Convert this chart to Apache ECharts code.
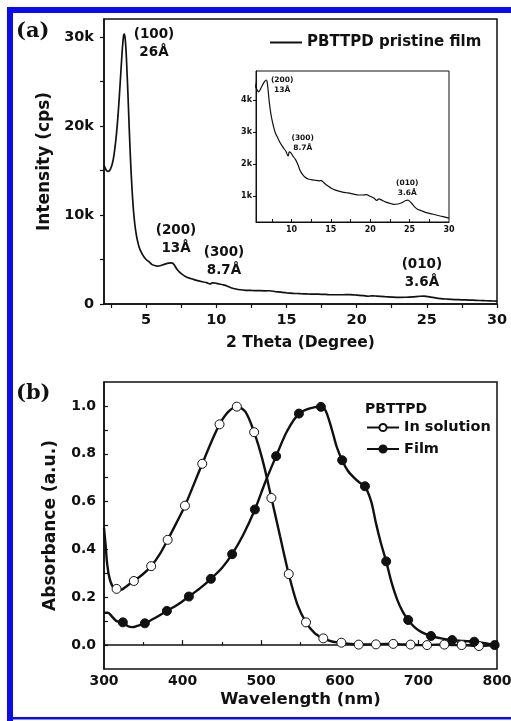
<!DOCTYPE html>
<html>
<head>
<meta charset="utf-8">
<title>PBTTPD XRD and absorption</title>
<script src="https://cdn.jsdelivr.net/npm/echarts@6/dist/echarts.min.js"></script>
<style>
  html, body { margin: 0; padding: 0; background: #fff; }
  #chart { width: 511px; height: 721px; }
</style>
</head>
<body>
<div id="chart"></div>
<script>
// (a) XRD scan of the pristine film
const xrdTheta = [2.0, 2.1, 2.2, 2.3, 2.4, 2.5, 2.6, 2.7, 2.8, 2.9, 3.0, 3.1, 3.2, 3.3, 3.4, 3.45, 3.5, 3.55, 3.6, 3.7,
  3.8, 3.9, 4.0, 4.1, 4.2, 4.3, 4.4, 4.5, 4.6, 4.8, 5.0, 5.2, 5.4, 5.6, 5.8, 6.0, 6.2, 6.4, 6.6, 6.8,
  6.9, 7.0, 7.2, 7.4, 7.6, 7.8, 8.0, 8.3, 8.6, 9.0, 9.3, 9.5, 9.6, 9.7, 9.9, 10.2, 10.5, 10.8, 11.1, 11.4,
  11.7, 12.1, 12.5, 13.0, 13.5, 13.8, 14.2, 14.6, 15.0, 15.5, 16.0, 16.5, 17.0, 17.5, 18.0, 18.5, 19.0, 19.5, 20.0, 20.5,
  20.8, 21.1, 21.4, 22.0, 22.5, 23.0, 23.5, 24.0, 24.5, 24.8, 25.2, 25.6, 26.0, 26.5, 27.0, 27.5, 28.0, 28.5, 29.0, 29.5, 30.0]
const xrdCounts = [15600, 15200, 14950, 14900, 15000, 15300, 15800, 16600, 17800, 19300, 21200, 23500, 26000, 28500, 30200, 30300, 29900, 29000, 27500, 23800,
  19600, 15800, 12800, 10500, 8900, 7800, 7000, 6400, 6000, 5400, 5000, 4750, 4450, 4330, 4250, 4300, 4400, 4500, 4580, 4620,
  4580, 4400, 3900, 3550, 3300, 3100, 2950, 2800, 2650, 2500, 2400, 2280, 2260, 2380, 2360, 2250, 2150, 2000, 1800, 1680,
  1600, 1540, 1520, 1500, 1480, 1490, 1400, 1330, 1260, 1200, 1160, 1130, 1110, 1090, 1060, 1040, 1040, 1050, 1000, 940,
  870, 920, 890, 820, 780, 750, 760, 800, 870, 880, 800, 680, 600, 550, 500, 470, 440, 410, 380, 350, 320]

// peak notes, main plot and inset
const xrdPeakText = ['(100)\n26Å', '(200)\n13Å', '(300)\n8.7Å', '(010)\n3.6Å']
const xrdPeakTheta = [5.56, 7.13, 10.55, 24.65]
const xrdPeakCounts = [29250, 7220, 4750, 3400]
const insetPeakText = ['(200)\n13Å', '(300)\n8.7Å', '(010)\n3.6Å']
const insetPeakTheta = [8.82, 11.43, 24.7]
const insetPeakCounts = [4465, 2666, 1254]

// tick labels
const xrdThetaLabels = [5, 10, 15, 20, 25, 30]
const xrdThetaTicks = [2.5, 5, 7.5, 10, 12.5, 15, 17.5, 20, 22.5, 25, 27.5, 30]
const xrdCountLabels = [0, 10000, 20000, 30000]
const xrdCountTicks = [0, 5000, 10000, 15000, 20000, 25000, 30000]
const insetThetaLabels = [10, 15, 20, 25, 30]
const insetThetaTicks = [7.5, 10, 12.5, 15, 17.5, 20, 22.5, 25, 27.5]
const insetCountLabels = [1000, 2000, 3000, 4000]
const absLabels = [0, 0.2, 0.4, 0.6, 0.8, 1.0]
const absTicks = [0, 0.1, 0.2, 0.3, 0.4, 0.5, 0.6, 0.7, 0.8, 0.9, 1.0]

// (b) absorption spectra; *Dot = 1 where the curve carries a marker
const solWl = [300, 302, 304, 307, 311, 316, 322, 327, 338, 349, 360, 371, 381, 392, 403, 414, 425, 436, 447, 458,
  469, 480, 491, 502, 513, 524, 535, 546, 557, 568, 579, 590, 602, 613, 624, 635, 646, 657, 668, 679,
  690, 700, 711, 722, 733, 744, 755, 766, 777, 788, 800]
const solAbs = [0.49, 0.42, 0.34, 0.28, 0.245, 0.235, 0.232, 0.242, 0.268, 0.295, 0.33, 0.38, 0.44, 0.51, 0.583, 0.67, 0.758, 0.845, 0.923, 0.975,
  0.997, 0.975, 0.89, 0.77, 0.615, 0.455, 0.297, 0.17, 0.095, 0.05, 0.028, 0.015, 0.01, 0.005, 0.002, 0.003, 0.003, 0.005, 0.005, 0.003,
  0.002, 0.0, 0.0, 0.002, 0.002, 0.0, 0.0, -0.002, -0.004, -0.002, 0.0]
const solDot = [0, 0, 0, 0, 0, 1, 0, 0, 1, 0, 1, 0, 1, 0, 1, 0, 1, 0, 1, 0,
  1, 0, 1, 0, 1, 0, 1, 0, 1, 0, 1, 0, 1, 0, 1, 0, 1, 0, 1, 0,
  1, 0, 1, 0, 1, 0, 1, 0, 1, 0, 0]

const filmWl = [300, 305, 310, 316, 324, 330, 336, 342, 352, 366, 380, 394, 408, 422, 436, 450, 463, 477, 492, 505,
  519, 533, 548, 562, 576, 582, 590, 596, 603, 610, 618, 625, 632, 640, 646, 652, 659, 666, 673, 680,
  687, 694, 701, 708, 716, 729, 743, 757, 771, 785, 797, 800]
const filmAbs = [0.135, 0.135, 0.12, 0.10, 0.095, 0.08, 0.075, 0.08, 0.091, 0.115, 0.143, 0.17, 0.203, 0.237, 0.277, 0.322, 0.38, 0.46, 0.567, 0.68,
  0.79, 0.895, 0.968, 0.99, 0.996, 0.98, 0.9, 0.83, 0.773, 0.73, 0.70, 0.68, 0.664, 0.6, 0.51, 0.43, 0.35, 0.26, 0.19, 0.14,
  0.105, 0.078, 0.06, 0.048, 0.038, 0.028, 0.021, 0.017, 0.014, 0.008, 0.0, 0.0]
const filmDot = [0, 0, 0, 0, 1, 0, 0, 0, 1, 0, 1, 0, 1, 0, 1, 0, 1, 0, 1, 0,
  1, 0, 1, 0, 1, 0, 0, 0, 1, 0, 0, 0, 1, 0, 0, 0, 1, 0, 0, 0,
  1, 0, 0, 0, 1, 0, 1, 0, 1, 0, 1, 0]

const ink = '#111'
const font = 'DejaVu Sans'
const blue = '#0a0af5'

function pairs(xs, ys) {
  return xs.map((x, i) => [x, ys[i]])
}
function withDots(xs, ys, dots) {
  return xs.map((x, i) => ({ value: [x, ys[i]], symbol: dots[i] ? 'circle' : 'none' }))
}
function notes(xs, ys, texts) {
  return xs.map((x, i) => ({ value: [x, ys[i]], name: texts[i] }))
}
function kFormat(v) {
  return v === 0 ? '0' : (v / 1000) + 'k'
}

const chart = echarts.init(document.getElementById('chart'))

const axisLine = { show: true, lineStyle: { color: ink, width: 1.5 } }
const bigLabel = { color: ink, fontFamily: font, fontWeight: 'bold', fontSize: 14.5 }
const smallLabel = { color: ink, fontFamily: font, fontWeight: 'bold', fontSize: 8 }
const nameStyle = { color: ink, fontFamily: font, fontWeight: 'bold', fontSize: 16 }
const noteLabel = {
  show: true, position: 'inside', formatter: p => p.name, color: ink, opacity: 1,
  textBorderWidth: 0, fontFamily: font, fontWeight: 'bold'
}

chart.setOption({
  backgroundColor: '#fff',
  animation: false,
  title: [
    { text: '(a)', left: 11, top: 16, textStyle: { fontFamily: 'DejaVu Serif', fontWeight: 'bold', fontSize: 21, color: ink } },
    { text: '(b)', left: 11, top: 378, textStyle: { fontFamily: 'DejaVu Serif', fontWeight: 'bold', fontSize: 21, color: ink } },
    { text: 'PBTTPD', left: 360, top: 397, textStyle: { fontFamily: font, fontWeight: 'bold', fontSize: 14, color: ink } }
  ],
  legend: [
    {
      data: ['PBTTPD pristine film'],
      left: 265, top: 30, icon: 'rect', itemWidth: 32, itemHeight: 2,
      textStyle: { color: ink, fontFamily: font, fontWeight: 'bold', fontSize: 15 }
    },
    {
      data: ['In solution', 'Film'],
      orient: 'vertical', left: 361, top: 415, itemWidth: 32, itemHeight: 9, itemGap: 6.5,
      textStyle: { color: ink, fontFamily: font, fontWeight: 'bold', fontSize: 14.5 }
    }
  ],
  grid: [
    { left: 104, top: 19, width: 393, height: 285, show: true, borderColor: ink, borderWidth: 1.5, outerBoundsMode: 'none' },
    { left: 256, top: 71, width: 193, height: 151, show: true, borderColor: ink, borderWidth: 1, outerBoundsMode: 'none' },
    { left: 104, top: 382, width: 393, height: 287, show: true, borderColor: ink, borderWidth: 1.5, outerBoundsMode: 'none' }
  ],
  xAxis: [
    {
      gridIndex: 0, type: 'value', min: 2, max: 30,
      name: '2 Theta (Degree)', nameLocation: 'middle', nameGap: 31, nameTextStyle: Object.assign({}, nameStyle, { fontSize: 15.5 }),
      axisLine: axisLine,
      axisTick: { length: 4, customValues: xrdThetaTicks, lineStyle: { color: ink, width: 1.2 } },
      axisLabel: Object.assign({ margin: 9, customValues: xrdThetaLabels }, bigLabel),
      splitLine: { show: false }
    },
    {
      gridIndex: 1, type: 'value', min: 5.5, max: 30,
      axisLine: { show: true, lineStyle: { color: ink, width: 1 } },
      axisTick: { inside: true, length: 3, customValues: insetThetaTicks, lineStyle: { color: ink } },
      axisLabel: Object.assign({ margin: 4, customValues: insetThetaLabels }, smallLabel),
      splitLine: { show: false }
    },
    {
      gridIndex: 2, type: 'value', min: 300, max: 800, interval: 100,
      name: 'Wavelength (nm)', nameLocation: 'middle', nameGap: 22, nameTextStyle: Object.assign({}, nameStyle, { fontSize: 16.5 }),
      axisLine: axisLine,
      axisTick: { inside: true, length: 5, lineStyle: { color: ink, width: 1.2 } },
      minorTick: { show: true, splitNumber: 2, length: 3, lineStyle: { color: ink, width: 1.2 } },
      axisLabel: Object.assign({ margin: 5 }, bigLabel, { fontSize: 14 }),
      splitLine: { show: false }
    }
  ],
  yAxis: [
    {
      gridIndex: 0, type: 'value', min: 0, max: 32000,
      name: 'Intensity (cps)', nameLocation: 'middle', nameGap: 39, nameTextStyle: Object.assign({}, nameStyle, { fontSize: 17 }),
      axisLine: axisLine,
      axisTick: { length: 4, customValues: xrdCountTicks, lineStyle: { color: ink, width: 1.2 } },
      axisLabel: Object.assign({ margin: 10, customValues: xrdCountLabels, formatter: kFormat }, bigLabel),
      splitLine: { show: false }
    },
    {
      gridIndex: 1, type: 'value', min: 200, max: 4900,
      axisLine: { show: true, lineStyle: { color: ink, width: 1 } },
      axisTick: { length: 3, customValues: insetCountLabels, lineStyle: { color: ink } },
      axisLabel: Object.assign({ margin: 4, customValues: insetCountLabels, formatter: kFormat }, smallLabel),
      splitLine: { show: false }
    },
    {
      gridIndex: 2, type: 'value', min: -0.1, max: 1.1,
      name: 'Absorbance (a.u.)', nameLocation: 'middle', nameGap: 45, nameTextStyle: Object.assign({}, nameStyle, { fontSize: 17 }),
      axisLine: axisLine,
      axisTick: { inside: true, length: 4, customValues: absTicks, lineStyle: { color: ink, width: 1.2 } },
      axisLabel: Object.assign({ margin: 8, customValues: absLabels, formatter: v => v.toFixed(1) }, bigLabel, { fontSize: 14 }),
      splitLine: { show: false }
    }
  ],
  series: [
    {
      name: 'PBTTPD pristine film', type: 'line', xAxisIndex: 0, yAxisIndex: 0,
      data: pairs(xrdTheta, xrdCounts), symbol: 'none', smooth: 0.2,
      lineStyle: { color: ink, width: 1.7 }, itemStyle: { color: ink }
    },
    {
      name: 'inset', type: 'line', xAxisIndex: 1, yAxisIndex: 1, clip: true,
      data: pairs(xrdTheta, xrdCounts), symbol: 'none', smooth: 0.2,
      lineStyle: { color: ink, width: 1.2 }
    },
    {
      name: 'In solution', type: 'line', xAxisIndex: 2, yAxisIndex: 2,
      data: withDots(solWl, solAbs, solDot), symbol: 'circle', symbolSize: 9, showAllSymbol: true, smooth: 0.3,
      lineStyle: { color: ink, width: 2.4 },
      itemStyle: { color: '#fff', borderColor: ink, borderWidth: 1 }
    },
    {
      name: 'Film', type: 'line', xAxisIndex: 2, yAxisIndex: 2,
      data: withDots(filmWl, filmAbs, filmDot), symbol: 'circle', symbolSize: 9, showAllSymbol: true, smooth: 0.3,
      lineStyle: { color: ink, width: 2.4 },
      itemStyle: { color: ink, borderColor: ink, borderWidth: 1 }
    },
    {
      // peak notes drawn as labels on invisible points
      name: 'peaks', type: 'scatter', xAxisIndex: 0, yAxisIndex: 0, silent: true, z: 5,
      data: notes(xrdPeakTheta, xrdPeakCounts, xrdPeakText), symbolSize: 1, itemStyle: { color: '#fff', opacity: 1 },
      label: Object.assign({ fontSize: 13.5, lineHeight: 18 }, noteLabel)
    },
    {
      name: 'inset peaks', type: 'scatter', xAxisIndex: 1, yAxisIndex: 1, silent: true, z: 5,
      data: notes(insetPeakTheta, insetPeakCounts, insetPeakText), symbolSize: 1, itemStyle: { color: '#fff', opacity: 1 },
      label: Object.assign({ fontSize: 7.5, lineHeight: 10 }, noteLabel)
    }
  ],
  // blue frame round the figure
  graphic: [
    { type: 'rect', shape: { x: 7, y: 7, width: 504, height: 6 }, style: { fill: blue }, silent: true },
    { type: 'rect', shape: { x: 7, y: 7, width: 6, height: 714 }, style: { fill: blue }, silent: true },
    { type: 'rect', shape: { x: 7, y: 717, width: 504, height: 2.5 }, style: { fill: blue }, silent: true }
  ]
})
</script>
</body>
</html>
